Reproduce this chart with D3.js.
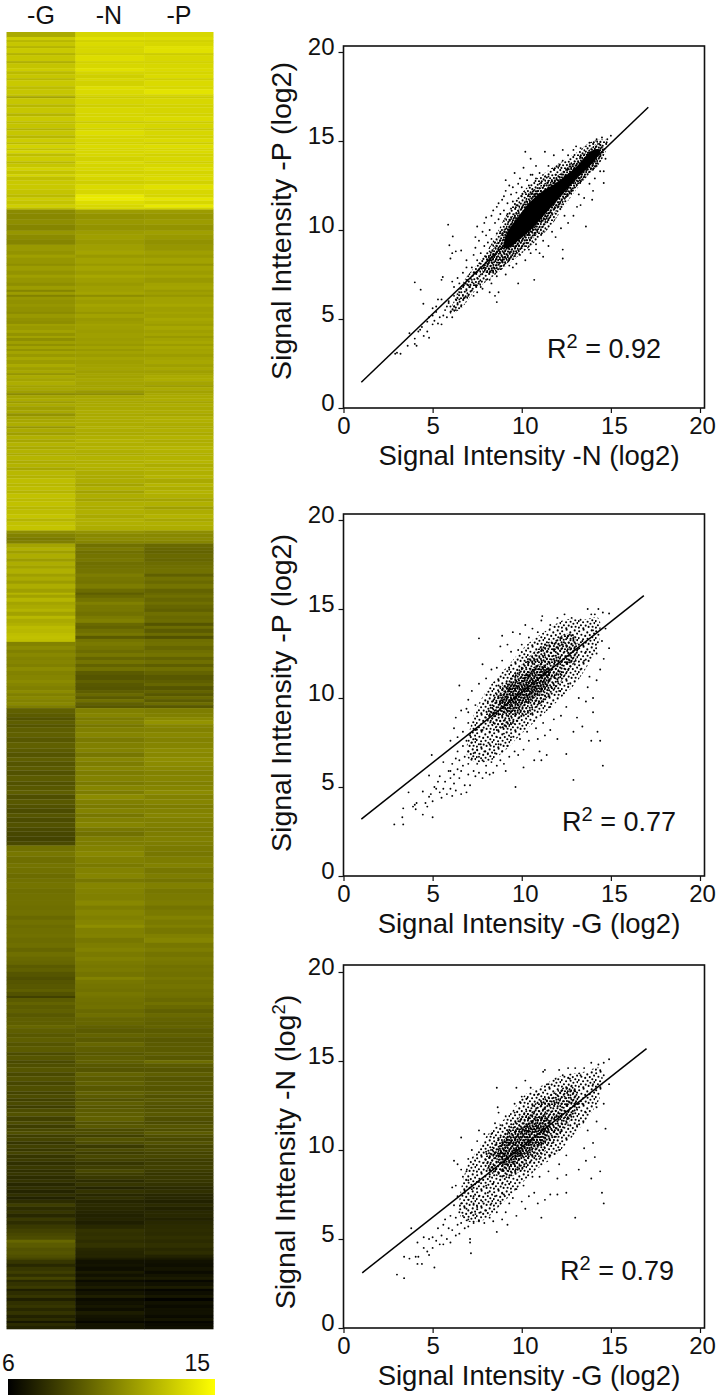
<!DOCTYPE html>
<html><head><meta charset="utf-8"><script src="https://d3js.org/d3.v7.min.js"></script>
<style>html,body{margin:0;padding:0;background:#fff}svg{display:block}text{font-family:"Liberation Sans",Arial,sans-serif;fill:#111}</style></head><body>
<svg id="c" width="717" height="1398"></svg>
<script>
// Heatmap: runs of [rows, -G, -N, -P], log2 values
const heatColumns=["-G","-N","-P"];
const legendLabels=["6","15"];
const heatTop=[[5,12,13.5,13.6],[3,13.2,13.9,13.8],[2,12.5,13.4,13.4],[4,13,13.7,13.6],[2,12.4,13.5,13.9],[5,13.1,13.6,13.9],[2,12.3,13.3,13.2],[6,13,13.8,13.6],[2,12.2,13.4,13.4],[5,12.9,13.6,13.6],[3,13.2,13.9,13.7],[3,12.6,13.5,13.5],[4,13,13.3,13.7],[2,12.5,13.6,13.3],[6,13.1,13.4,13.7],[3,12.7,13.8,13.6],[5,13,13.7,14],[2,12.8,13.5,13.5],[2,11.8,13.2,13.2],[6,13,13.5,13.6],[3,12.5,13.3,13.4],[6,13,13.6,13.5],[3,12.4,13.5,13.4],[5,13.1,13.6,13.7],[2,12.6,13.1,13.2],[5,12.9,13.6,13.5],[2,12.3,13.3,13.1],[5,13,13.8,13.6],[3,12.5,13.5,13.4],[4,13.2,13.6,13.7],[2,12.6,13.4,13.2],[4,13.4,13.7,13.8],[2,12.8,13.5,13.5],[3,13.5,13.6,13.7],[3,12.7,13.6,13.4],[5,13.2,13.4,13.6],[2,12.5,13.7,13.3],[4,13,13.5,13.6],[3,13.4,13.6,13.8],[4,12.9,13.4,13.5],[2,13.5,13.8,13.6],[4,12.8,13.5,13.7],[4,13.1,13.3,13.4],[5,13.1,13.7,13.9],[5,12.9,13.6,13.6],[3,12.6,14.2,13.5],[3,13.2,14.3,14.1],[4,12.9,13.8,13.6],[3,13.3,13.6,14.2],[2,12.6,13.6,13.4]];
const heatRising=[[4,10.9,11.5,11.5],[6,10.8,11.2,11.3],[5,11,11.4,11.5],[6,10.7,11.2,11.2],[4,11.3,11.5,11.6],[5,10.9,11.6,11.4],[5,10.7,11.4,11.1],[6,11.4,11.6,11.3],[4,11.2,11.8,11.6],[3,11.6,11.4,11.4],[6,11.3,11.7,11.7],[2,11,11.4,11.2],[5,11.5,11.8,11.7],[4,11.2,11.5,11.5],[3,11.6,11.9,11.8],[5,11.3,11.6,11.4],[3,11,11.4,11.7],[4,11.5,11.6,11.8],[2,10.7,11.6,11.4],[3,11.5,11.8,11.6],[2,10.6,11,11.3],[3,11.3,11.7,11.7],[4,11.1,11.5,11.7],[3,11.3,11.8,11.9],[5,11.1,11.6,11.6],[2,10.9,11.3,11.8],[4,11.4,11.7,11.6],[3,11.1,11.4,11.9],[3,11,11.5,11.7],[2,11.6,11.7,11.5],[4,11.4,11.6,11.9],[3,11.7,11.5,11.6],[3,11.2,11.6,11.8],[2,11.7,11.6,11.4],[3,11,11.5,11.7],[3,11.6,11.6,11.9],[2,11.1,11.4,11.5],[3,11.7,11.7,11.9],[2,11.2,11.4,11.7],[3,11.8,11.7,11.8],[3,11.4,11.5,11.5],[3,11.9,11.8,11.8],[4,11.5,11.6,11.9],[3,12,11.7,11.6],[3,11.6,11.8,11.9],[3,11.9,11.6,11.6],[2,11.3,11.8,11.8],[3,12,11.7,12],[3,11.8,11.9,12.1],[4,12.1,11.8,11.8],[2,11.7,11.7,11.5],[3,11.9,11.9,12],[3,11.6,11.4,11.7],[2,10.9,11,11.9],[3,11.8,11.9,12],[3,12,12,12.1],[2,11.5,11.9,11.8],[3,12,12,12.1],[4,11.6,12,12],[3,11.9,12.1,12.1],[3,11.2,12,11.9],[3,11.8,12.1,12.2],[3,11.9,12.1,12.2],[4,12.1,12.1,12.1],[2,11.3,12.2,12],[4,12,12.1,12.2],[3,11.6,12,12],[4,12.2,12.2,12.3],[3,11.9,12.3,12.1],[4,12.3,12.2,12.2],[3,12,12.3,12.4],[4,12.3,12.2,12.3],[2,12,12,12.1],[5,12.4,12.3,12.3],[3,12.1,12.2,12.4],[4,12.3,12.3,12.1],[3,11.9,12.2,12.3],[5,12.5,12.1,12.2],[3,12.3,12,12.4],[5,12.7,12.1,12],[3,12.5,11.8,12.4],[4,12.7,12.2,12.1],[3,12.4,11.7,12.3],[5,12.8,12.1,12.2],[3,12.6,11.8,11.8],[5,12.8,12.2,12.2],[3,12.5,12,11.6],[5,12.7,12.2,12.1],[4,12.9,12,12.3],[3,12.4,12.2,11.9],[4,12.8,12.2,12.2],[5,12.9,12.1,12.1]];
const heatGHigh=[[3,11,11.2,11],[4,10.6,10.8,10.8],[3,10.3,10.9,10.9],[3,10.5,10.7,10.7],[4,11.8,10,9.7],[3,12.2,10.3,9.6],[3,11.6,9.9,9.5],[5,12.1,10.1,9.7],[3,11.5,10.2,9.6],[4,12.1,9.9,9.8],[3,11.7,10,9.9],[5,12.2,10.1,10],[3,11.6,10.4,9.4],[4,12,10.2,10],[3,11.5,10.1,9.7],[5,12.1,10.4,10.1],[4,11.6,9.8,9.5],[2,12.4,9.3,9.7],[3,11.7,9.7,9.9],[4,12.4,10.1,9.6],[3,11.8,10.5,9.9],[4,12,10.2,9.6],[3,12.3,10.2,9.4],[4,11.7,10,9.9],[3,12.5,10.3,9.7],[4,12,10.5,9.8],[3,12.2,9.7,9],[3,12.6,9.5,9.8],[4,12.5,9.9,9.2],[3,12.7,10.2,9.8],[3,12.8,9.2,8.9],[3,12.7,10.1,9.9]];
const heatGMid=[[4,10.6,10.3,10],[4,10.9,10.1,9.6],[3,10.5,9.8,9.9],[4,10.8,10.2,10.1],[3,10.6,9.6,9.5],[4,10.7,10.1,9.9],[3,10.5,9.5,9.3],[4,10.9,10,9.9],[4,10.6,9.2,9.5],[5,10.7,9,9.1],[3,10.9,9.4,9.3],[3,10.7,9.1,9.6],[4,10.5,9,9],[3,10.9,9.3,9.5],[3,10.5,9.7,9.1],[3,10.8,9.2,9.7],[3,10.6,9.9,9.2],[3,10.8,9.4,9.8],[3,10.4,9.1,9.1]];
const heatGLow=[[5,9.4,10.5,10.4],[4,9.2,10.7,10.5],[3,8.9,10.3,10.8],[4,9.3,10.6,11.2],[3,9,10.2,10.7],[5,9.3,10.5,10.6],[5,9.4,10.7,10.8],[5,9.1,10.3,10.6],[6,9.4,10.5,10.7],[4,9.2,10.6,10.9],[5,9,10.2,10.8],[4,9.3,10.7,11],[5,9,10.4,10.9],[4,9.2,10.7,10.8],[5,8.9,10.4,10.6],[6,9.2,10.6,10.7],[4,8.9,10.3,10.5],[5,9.1,10.7,10.7],[4,9.3,10.4,10.9],[5,8.8,10.9,10.6],[5,9.1,10.5,10.7],[4,8.9,10.3,10.4],[5,8.7,10.6,10.6],[4,9,10.2,10.7],[5,8.7,10.5,10.5],[5,8.9,10.7,10.5],[4,8.6,10.2,10.3],[5,8.5,10,10.4],[5,8.4,10.4,10.5],[4,8.6,10.4,10.4]];
const heatFalling=[[6,10,10.6,10.3],[5,10.2,10.8,10.2],[7,9.9,10.5,10.4],[4,10.1,10.3,10.6],[6,10,10.6,10.2],[5,9.8,10.7,10.4],[4,10,10.2,10.1],[6,10.1,10.7,10.5],[5,9.9,10.6,10.2],[7,10,10.5,10.3],[5,10,10.8,10.4],[4,9.9,10.4,10.1],[6,10,10.7,10.3],[4,9.7,10.5,10.6],[5,10,10.7,10.3],[3,9.8,11,10.5],[6,9.9,10.5,10.2],[4,10,10.6,10.5],[5,9.8,10.2,10.7],[5,9.9,10.4,10.2],[4,9.6,10.6,10.4],[5,9.9,10.3,10.1],[4,9.7,10.5,10.3],[4,9.6,10.3,10.2],[3,9.2,10.2,10],[4,9.4,10.3,10.1],[5,9,10.1,10],[3,8.8,10.6,10.2],[4,9,10.2,10],[5,9.1,10.1,10.1],[3,9.3,10,9.9],[4,8.9,10.2,10],[2,8.3,10.1,9.9],[4,9.2,10,9.7],[3,9.5,9.9,10],[4,9.2,10,9.7],[4,9.4,9.7,9.4],[4,9.1,9.9,9.7],[4,9.3,9.6,9.5],[4,9.3,9.6,9.4],[3,9.6,9.4,9.5],[5,9.3,9.2,9.2],[4,9.1,9.5,9.4],[5,9.3,9.2,9.1],[4,9,9.6,9.2],[6,9.2,9.3,9.2],[3,8.7,9.1,9.3],[5,9,9.3,9.1],[3,8.6,9.4,9.8],[4,8.8,9.1,9.2],[5,9,9,9],[4,8.6,9.5,9.3],[5,8.9,9.2,9],[4,8.5,9.4,9.1],[6,8.8,9.1,9],[3,8.4,9.4,9.2],[4,8.7,9.2,8.9],[3,8.3,8.9,9.1],[4,8.6,9.3,9],[3,8.2,9,8.8],[4,8.7,9.2,9],[4,8.9,9.3,9.1],[5,8.3,9.4,8.8],[3,8.7,8.9,8.7],[4,8.2,9.1,9],[3,8.5,8.6,8.8],[3,8.8,8.8,9.2],[3,8.2,8.3,8.8],[4,8.4,8.9,8.6],[3,7.9,8.7,8.9],[4,8.3,8.1,8.5],[3,8,8.6,8.7],[3,8.4,8.2,8.4],[4,7.9,8.5,8.5],[3,8.1,8.3,8.2],[4,7.7,7.9,8.2],[4,8,8.2,8.3],[3,7.7,8.5,8.1],[3,7.9,8.2,7.9],[4,7.6,8,8],[3,7.8,7.6,7.9],[4,7.4,7.9,7.8],[3,7.7,7.3,7.5],[4,7.3,7.8,7.7],[3,7.7,7.4,7.4],[3,7.2,7.7,7.4],[4,7.6,7.3,7.2],[3,8.2,7.5,7.5],[4,7.6,7.4,7.2],[3,7.9,7.3,7.4],[4,7.4,7.2,7.4],[3,8,7.3,7.2],[4,7.6,7.1,7.4],[4,8,7.4,7.5],[4,8.3,7.8,7.6],[3,8.5,7.7,7.5],[4,8.7,7.8,7.7],[3,9.6,7.6,7.5],[5,9.2,7.8,7.7],[3,8.9,7.4,7.4],[4,9,7.3,7.6],[3,8.8,7.3,7.2],[2,8.5,7,6.9]];
const heatBottom=[[4,7.9,6.6,6.6],[3,7.4,6.7,6.5],[4,7.9,6.5,6.7],[3,8.2,6.9,6.4],[3,7.7,6.6,6.7],[3,8.4,7,6.9],[2,7.4,6.4,6.3],[4,7.8,6.7,6.6],[3,8.1,7,7],[2,7.1,6.4,6.2],[4,7.6,6.7,6.5],[3,7.9,7.1,6.8],[3,7.1,6.4,6.1],[4,7.7,6.6,6.6],[3,7.9,6.8,6.4],[3,7.4,6.5,6.6],[4,7.8,7,6.6],[3,7.2,6.7,6.4],[3,7.6,6.6,6.7],[2,6.8,6.3,6.2],[3,7.5,6.7,6.4],[3,7.2,6.7,6.5]];

// Scatter panels: individually readable dots, plus the outline of zones where dots merge
const axisTicks=[0,5,10,15,20];
const fitNP=[[1,1.45],[17.1,16.9]], fitGP=[[1,3.2],[16.85,15.75]], fitGN=[[1.05,3.1],[17,15.7]];
const zonesNP=[
 [[6,5.3],[6.8,7.2],[7.6,8.2],[8.4,9.4],[9,10.6],[9.6,11.6],[10.3,12.4],[11,13],[12,13.7],[13,14.3],[14,15],[14.8,15],[14.4,13.8],[13.4,12.7],[12.5,11.5],[11.6,10.2],[10.6,9.2],[9.4,8.2],[8.4,7.4],[7.4,6.6],[6.6,5.6]],
 [[7.8,7.7],[8.6,9.3],[9.2,10.4],[9.9,11.3],[10.6,12.2],[11.4,12.7],[12.2,13.2],[13.2,14],[14.4,14.9],[14.6,14.2],[13.6,13],[12.7,12],[11.8,10.9],[10.9,9.8],[10,8.9],[9,8],[8.3,7.6]],
 [[9,9],[9.2,9.9],[9.7,10.6],[10.4,11.5],[11.2,12.2],[12,12.7],[13,13.5],[14,14.5],[14.4,14.5],[14.1,13.9],[13.2,13],[12.2,11.9],[11.4,11],[10.6,10.1],[9.8,9.4],[9.3,9]]];
const zonesGP=[
 [[7.2,8.7],[7.7,9.9],[8.4,10.9],[9.3,11.9],[10.3,13],[11.4,13.8],[12.4,14.4],[13.5,14.4],[14.3,14.5],[14.3,13],[13.8,12],[13,10.8],[12,9.8],[11,8.9],[10,8],[9,7],[8,6.4],[7,6.6]],
 [[8,8.8],[8.6,10.3],[9.5,11.3],[10.6,12.5],[11.6,13.2],[12.8,13.6],[13.2,12.6],[12.4,11.2],[11.4,10],[10.2,9],[9,8.3]],
 [[8.7,9.6],[9.2,10.7],[10,11.2],[11,11.9],[11.6,11.6],[11.4,10.6],[10.4,9.8],[9.4,9.2]]];
const zonesGN=[
 [[6.9,9],[7.5,10],[8.2,11],[9.3,12],[10.3,13.2],[11.3,13.7],[12.3,14.2],[13.5,14.4],[14.4,14.6],[14.4,13],[13.7,11.8],[12.8,10.7],[11.8,9.6],[10.7,8.8],[9.7,7.8],[8.8,6.9],[7.7,6],[6.6,6.2]],
 [[7.9,9.2],[8.5,10.4],[9.4,11.4],[10.6,12.5],[11.6,13.1],[12.8,13.6],[13.2,12.6],[12.4,11.2],[11.4,10],[10.2,9],[9,8.4]],
 [[8.6,9.4],[9,10.6],[9.9,11.2],[11,11.9],[11.6,11.6],[11.3,10.6],[10.3,9.8],[9.3,9.1]]];
const dotsNP=[[3,3.1],[2.9,3.05],[3.2,3.05],[3.6,3.5],[3.7,4.2],[4,3.9],[4,3.6],[4.1,3.5],[4.2,4.3],[4.3,4.4],[4.4,4.55],[4.5,4.05],[4.8,3.95],[4.7,4.3],[4.7,4.85],[4.8,5.1],[5,4.7],[5,5.2],[5.1,4.9],[5.2,5.4],[5.3,4.75],[5.4,5.1],[5.5,4.7],[5.6,5.2],[5.7,5.5],[5.8,5.1],[5.8,5.7],[5.9,6],[6,5.4],[6,5.7],[5.5,6.1],[5.3,6.1],[5.2,5.7],[5,5.6],[5.9,5.9],[6.1,5.1],[6.2,6.3],[6.2,5.7],[6.3,6.1],[6.3,5.5],[6.4,6.4],[6.4,5.9],[6.5,6.5],[6.5,6.1],[6.6,5.7],[6.6,6.7],[6.7,6.3],[6.8,6.2],[6.8,7],[6.9,6.6],[7,6.9],[7,6.3],[7,7.4],[7.1,6.8],[7.2,7.2],[7.2,6.6],[7.2,7.9],[7.3,7],[7.3,6.3],[7.4,7.6],[7.4,6.9],[7.5,7.3],[7.5,8.3],[7.5,6.5],[7.6,7.8],[7.6,7.1],[7.7,8.1],[7.7,7.5],[7.7,6.8],[4,7.06],[4.33,6.65],[4.48,5.86],[5.57,7.36],[5.5,7.2],[6.1,7.1],[6.4,7.3],[6.7,7.6],[5.87,10.3],[5.94,9.14],[6.13,9.64],[6.1,8.7],[6,8.4],[6.3,8.8],[6.6,8.85],[6.9,8.3],[6.9,7.9],[7.3,8.6],[7.4,9],[7.4,9.6],[7.5,10.2],[7.6,9.4],[7.7,8.7],[7.8,9.9],[7.9,9.1],[7.9,10.4],[8,8.5],[8,9.7],[8,10.7],[8.1,9.3],[8.1,8.1],[8.2,10],[8.3,9.5],[8.3,10.8],[8.4,11.1],[8.4,8.6],[8.5,10.4],[8.6,9.8],[8.6,11.3],[8.7,10.6],[8.7,11.5],[8.8,9.9],[8.8,10.9],[8.9,11.7],[9,10.5],[9,11.1],[9,11.9],[9.1,12.2],[9.2,10.9],[9.2,11.5],[9.3,12.5],[9.1,12.8],[9.4,11.2],[9.4,12],[9.5,11.6],[9.5,12.4],[9.6,13.2],[9.7,11.4],[9.7,12.1],[9.8,12.6],[9.9,12.9],[10,11.9],[10,12.4],[10.1,13.5],[10.2,12.1],[10.2,14.4],[10.3,12.8],[10.4,12.5],[10.5,14],[10.5,13.1],[10.6,13.1],[10.6,12.3],[10.8,13.6],[10.8,12.9],[11,13.2],[11,12.6],[11.3,14.4],[11.3,13],[11.5,13.6],[11.5,13],[11.8,13.4],[11.8,14.2],[11.9,13.1],[12.1,13.6],[12.3,14.5],[12.3,13.9],[12.5,13.4],[12.6,14.2],[12.7,13.7],[12.9,14.5],[13.05,14.7],[13.3,14.6],[13.3,14.1],[13.8,14.9],[13.6,14.7],[14.2,15.1],[14.5,15.2],[15,15.3],[14.8,15.1],[8,8.5],[8.2,7.2],[8.6,5.95],[8.5,6.3],[8.7,6.5],[8.2,6.5],[8.3,7],[8.6,7.4],[8.8,7.8],[9.1,7.5],[9.3,8],[9.8,7],[10.7,7.2],[9.5,7.9],[9.7,8.1],[10.2,8.3],[10.5,8.7],[10.8,8.9],[11,8.7],[11.2,8.5],[11.5,9.1],[12.3,8.4],[12.3,8.9],[11.9,9.6],[12.2,10.1],[12.6,10.4],[12.9,10.8],[13.6,10.2],[13.3,11.4],[13.95,11.7],[13.5,11.8],[13.8,12.6],[14.1,12.9],[14.6,12.64],[14.6,13.3],[14.2,13.6],[14.4,13.3],[14.7,14],[14,12.2],[13.2,12],[13.1,11.3],[12.4,10.8],[11.7,9.9],[11.2,9.4],[10.8,9.2],[10.4,8.9],[9.9,8.6],[9.3,8.4],[8.9,8.2],[8.4,7.6],[8,7.2],[7.8,6.7],[7.9,7.9],[8.2,8.8],[8.5,9.3],[8.3,8.3],[8.7,9],[7.3,7.6],[6.9,7.2],[6.5,7],[6.2,6.8],[9.5,10],[10.9,12],[12.6,13],[11.6,11],[10.2,9.8]];
const dotsGP=[[2.85,2.9],[3.35,2.9],[3.3,3.3],[3.35,3.8],[3.65,4.7],[4,4],[4.05,3.75],[3.9,3.9],[4.1,4.1],[4.45,3.45],[4.45,4.75],[4.7,3.9],[4.6,4.1],[5,3.3],[4.8,4.45],[4.9,4.6],[4.8,5.65],[4.95,6.8],[5,4.2],[5.1,5],[5.2,4.9],[5.3,5.3],[5.4,4.7],[5.4,5.6],[5.5,4.4],[5.6,4.9],[5.6,6.4],[5.7,5.3],[5.8,4.6],[5.9,5.9],[6,4.9],[6,5.5],[6,5.9],[6.1,4.5],[6.1,6.3],[6.2,5.2],[6.2,5.7],[6.3,6.6],[6.3,4.8],[6.4,6],[6.4,7],[6.5,5.5],[6.5,6.5],[6.6,4.6],[6.6,5.9],[6.7,7.3],[6.7,6.2],[6.8,5.1],[6.8,6.7],[6.9,4.7],[6.9,7.6],[7,5.7],[7,6.3],[7,7],[7.1,8],[7.1,5.1],[7.2,6.6],[7.2,7.5],[7.3,5.9],[7.3,6.9],[7.4,5.6],[7.4,7.7],[7.5,6.3],[7.5,7.1],[7.6,5.8],[7.6,6.7],[7.7,7.4],[7.8,5.5],[7.8,6.5],[7.9,7],[8,5.8],[8,6.2],[8.1,6.9],[8.2,5.7],[8.2,7.4],[8.3,6.4],[8.4,5.8],[8.5,6.9],[8.6,6.2],[8.7,7.4],[8.8,6.5],[8.9,7],[9,6.3],[9.1,5.9],[9.2,7.3],[9.3,6.7],[9.6,7],[9.8,6.8],[9.65,5],[10.1,6.1],[10.1,7.1],[10.4,7.6],[10.7,6.5],[11,7],[11.1,6.5],[11.4,6.8],[10.9,7.7],[11.3,7.9],[11.6,8.2],[12,7.7],[12.5,6.85],[12.9,5.4],[14.55,6.2],[13.9,7.6],[14.4,7.6],[14.25,8.1],[12.9,8.1],[13.4,8.4],[13.1,8.9],[14,9.2],[13.6,9.8],[14,10],[13.2,10],[13.7,10.6],[14.2,11],[14.4,11.6],[14.6,12.2],[14.9,12.8],[14.5,13.2],[14.7,13.9],[14.9,14.75],[14.55,14.8],[14.3,15],[14.1,14.7],[13.7,15],[13.9,14.7],[6.5,10.7],[7.6,13.35],[7.8,11.9],[9.5,13.7],[8.9,13.5],[8.8,12.9],[10.2,14.1],[11.1,14.35],[11.15,14.6],[9.9,13.6],[10.4,13.4],[10.9,13.7],[11.6,14.1],[12,14.5],[12.4,14.7],[12.8,14.5],[13.3,14.4],[9.2,13],[9.4,12.6],[8.9,12.1],[8.6,11.7],[8.3,11.6],[8,11.1],[7.6,10.8],[7.2,10.4],[7,9.9],[6.9,9.4],[6.6,9.3],[6.3,8.9],[6.2,8.3],[6,7.6],[7,9.2],[7.4,9.6],[9.8,12.7],[10,13],[10.6,13.9],[7,8.6],[6.7,8.1],[6.4,7.8],[8.1,9.8],[8.4,9.1],[8.7,10.7],[9,9.2],[9.3,11.6],[9.7,10],[10,11.7],[10.4,10.4],[10.7,12.1],[11,9.7],[11.4,12.6],[11.6,9.5],[11.9,11.1],[12.1,10.4],[12.3,13],[12.7,12],[12.9,13.3],[13.4,13.2],[13.6,12.6],[14,13.8],[14.2,12.5],[13.8,11.2],[13.3,11.6],[12.5,9.5],[12.2,9],[11.8,8.8],[11.2,8.6],[10.8,8.3],[10.3,8.1],[9.9,7.7],[9.4,7.8],[9,8],[8.6,8.2],[8.2,8.1],[7.8,8.2],[7.4,8.2],[7.1,7.9],[8.6,7.8],[9.5,8.6],[10.5,9.1],[11.5,10.1],[12.6,10.8],[13.5,12.1]];
const dotsGN=[[3,3],[3.4,2.8],[3.4,4],[3.7,3.9],[3.8,5.6],[4.05,4],[4.15,3.6],[4.2,4],[4.15,4.8],[4.4,3.6],[4.5,5.1],[4.5,4.5],[4.7,4.3],[4.8,4.1],[4.8,5],[5,4.5],[5,5.1],[5.1,3.4],[5.2,4.9],[5.3,5.6],[5.4,4.7],[5.5,5.2],[5.6,5.8],[5.6,4.7],[5.7,6.1],[5.8,5],[5.9,5.6],[6,4.8],[6,6.3],[6.1,5.5],[6.2,6.9],[6.3,5.2],[6.3,6.2],[6.4,5.8],[6.4,7.4],[6.5,5.3],[6.5,6.5],[6.6,5.9],[6.6,7],[6.7,6.3],[6.8,5.6],[6.8,7.6],[6.9,6.7],[7,5.7],[7,6.1],[7,7.2],[7.1,4.8],[7.1,5],[7.15,4.2],[7.2,6.5],[7.2,7.8],[7.3,5.9],[7.3,7],[7.4,6.4],[7.5,6.8],[7.6,6],[7.6,7.4],[7.7,6.5],[7.8,7.1],[7.9,5.9],[8,6.6],[8.1,7.6],[8.2,6.2],[8.3,7],[8.4,6],[8.5,7.4],[8.6,5.4],[8.6,6.5],[8.8,7.1],[8.9,6.1],[9,7.5],[9.1,6.5],[9.2,5.8],[9.3,7],[9.5,7.3],[9.7,6.3],[10,7.1],[10.2,6.7],[10.4,7.4],[10.7,7.6],[10.9,7],[11.1,6.2],[11.3,7.2],[11.6,7.5],[12,7.5],[12.5,7.6],[13,6.2],[14.5,7.6],[14.6,7],[13.9,8.4],[14.4,8.8],[13.2,8.9],[12.5,8.6],[12,8.4],[13.6,9.4],[14.1,9.6],[13.5,10.1],[14,10.4],[14.7,11.2],[14.6,12.6],[14.2,11.6],[14.9,13.7],[14.6,14.2],[14.9,15.1],[14.6,14.9],[14.3,14.8],[13.9,14.9],[13.5,14.6],[13,14.6],[12.6,14.6],[12.1,14.5],[11.3,14.5],[11.2,14.4],[10.2,13.9],[9.7,13.5],[8.6,13.5],[8.65,12.4],[8.7,12.1],[9.6,12.6],[9.6,12.1],[9.1,11.9],[6.6,10.7],[7.6,11.1],[7.9,10.9],[6.2,9.4],[6.4,9.2],[6.6,8.9],[6.1,7.9],[6.3,8],[6.9,8.8],[7,9.5],[7.2,10],[7.5,10.5],[7,8.3],[6.7,8.5],[8.3,10.9],[8.5,11.5],[8.8,11.4],[10,13],[10.5,13.5],[10.9,13.1],[11.5,13.7],[11.9,14],[12.3,14.2],[12.7,14],[13.3,14.2],[9.9,12.7],[10.3,12.9],[8,9.9],[8.2,8.5],[8.5,9.8],[8.9,8.1],[9.2,10.9],[9.6,9.2],[9.9,11.6],[10.3,9.9],[10.6,11.9],[11,9.5],[11.3,12.3],[11.6,9.7],[11.8,11],[12.1,10],[12.4,13],[12.6,11.4],[13,13.3],[13.4,12.6],[13.6,12.1],[14,13.7],[14.2,12.4],[13.7,11.1],[13.1,11.4],[12.5,9.7],[12.1,9.2],[11.5,8.8],[11,8.5],[10.6,8.5],[10.1,8],[9.7,7.8],[9.3,8.1],[8.9,7.6],[8.4,8.1],[8,8],[7.6,8.2],[7.3,7.4]];

// Stipple tiles (texture only) used to fill the merged-dot zones
const stippleSparse=[[1.2,2.3],[5.6,.8],[9.3,3.4],[13.7,1.4],[16.1,4.6],[3.4,5.7],[7.2,6.9],[11.8,6.1],[14.3,8.2],[.7,9.1],[5.1,10.3],[9.6,9.8],[12.4,11.7],[16.4,11.1],[2.9,13.2],[7.7,13.6],[10.6,14.9],[14.6,14.7],[.9,15.6],[5.3,16.2]];
const stippleMid=[[1.3,1.1],[4.7,2.8],[8.2,.9],[11.4,3.2],[2.6,5.4],[6.3,6.2],[9.8,5.7],[12.5,7.4],[.8,8.6],[4.1,9.3],[7.9,9.1],[10.6,10.4],[2.4,11.9],[6,12.2],[8.8,12.4],[12.3,11.6]];
const stippleDense=[[.9,1.3],[3.7,.8],[6.4,2.1],[9.4,1],[1.8,4.1],[4.8,4.6],[7.8,4.3],[10.2,3.9],[.6,6.7],[3.2,7.1],[6.1,7.2],[8.9,6.6],[2,9.6],[4.9,9.9],[7.7,9.4],[10.1,9.2]];

const cellColor=d3.scaleLinear().domain([6,15]).range(["#000","#ff0"]);
const svg=d3.select("#c");
const defs=svg.append("defs");
[["tileSparse",17,stippleSparse],["tileMid",13,stippleMid],["tileDense",11,stippleDense]].forEach(([id,s,pts])=>{
  defs.append("pattern").attr("id",id).attr("patternUnits","userSpaceOnUse").attr("width",s).attr("height",s)
    .selectAll("circle").data(pts).join("circle").attr("cx",d=>d[0]).attr("cy",d=>d[1]).attr("r",1.05).attr("fill","#000");
});

// ---- heatmap
const heatRuns=[...heatTop,...heatRising,...heatGHigh,...heatGMid,...heatGLow,...heatFalling,...heatBottom];
const totalRows=d3.sum(heatRuns,d=>d[0]);
const heatY=d3.scaleLinear().domain([0,totalRows]).range([32,1329]);
const heatX=d3.scaleBand().domain(heatColumns).range([6.5,213]);
let start=0;
const runs=heatRuns.map(d=>{const r={start,len:d[0],vals:d.slice(1)};start+=d[0];return r;});
const heat=svg.append("g");
heatColumns.forEach((c,i)=>{
  heat.append("g").selectAll("rect").data(runs).join("rect")
    .attr("x",heatX(c)).attr("width",heatX.bandwidth()+.5)
    .attr("y",d=>heatY(d.start)).attr("height",d=>heatY(d.start+d.len)-heatY(d.start)+.3)
    .attr("fill",d=>cellColor(d.vals[i]));
  svg.append("text").attr("x",[41,109,179][i]).attr("y",24).attr("text-anchor","middle").attr("font-size",25).text(c);
});

// ---- colour legend
const legendX=d3.scaleLinear().domain([6,15]).range([8,215]);
const grad=defs.append("linearGradient").attr("id","legendGrad");
grad.selectAll("stop").data([6,15]).join("stop")
  .attr("offset",d=>(d-6)/9).attr("stop-color",d=>cellColor(d));
svg.append("rect").attr("x",legendX(6)).attr("y",1379).attr("width",legendX(15)-legendX(6)).attr("height",16).attr("fill","url(#legendGrad)");
svg.append("text").attr("x",2).attr("y",1371).attr("font-size",23).text(legendLabels[0]);
svg.append("text").attr("x",210).attr("y",1371).attr("text-anchor","end").attr("font-size",23).text(legendLabels[1]);

// ---- scatter panels
function panel(o){
  const x=d3.scaleLinear().domain([0,20]).range([343.5,700]);
  const y=d3.scaleLinear().domain([0,20]).range([o.y0,o.y20]);
  const g=svg.append("g");
  const line=d3.line().x(d=>x(d[0])).y(d=>y(d[1]));
  g.selectAll("path.zone").data(o.zones).join("path").attr("class","zone")
    .attr("d",d=>d3.line().x(p=>x(p[0])).y(p=>y(p[1])).curve(d3.curveCatmullRomClosed)(d))
    .attr("fill",(d,i)=>o.fills[i]);
  g.selectAll("circle").data(o.dots).join("circle")
    .attr("cx",d=>x(d[0])).attr("cy",d=>y(d[1])).attr("r",.95).attr("fill","#000");
  g.append("path").attr("d",line(o.fit)).attr("stroke","#000").attr("stroke-width",1.5).attr("fill","none");
  g.append("rect").attr("x",343.5).attr("y",o.top).attr("width",361).attr("height",o.y0-o.top)
    .attr("fill","none").attr("stroke","#111").attr("stroke-width",1.6);
  const ax=d3.axisBottom(x).tickValues(axisTicks).tickSize(5).tickSizeOuter(0);
  const ay=d3.axisLeft(y).tickValues(axisTicks).tickSize(5).tickSizeOuter(0);
  const gx=g.append("g").attr("transform",`translate(0,${o.y0})`).call(ax);
  const gy=g.append("g").attr("transform","translate(343.5,0)").call(ay);
  [gx,gy].forEach(a=>{a.select(".domain").remove();a.selectAll("line").attr("stroke","#111").attr("stroke-width",1.2);
    a.selectAll("text").attr("font-size",24).attr("font-family","Liberation Sans").attr("fill","#111");});
  gx.selectAll("text").attr("y",9).attr("dy","0.71em").attr("dx",d=>d>=10&&d<20?3:(d==20?2:0));
  gy.selectAll("text").attr("x",-9).attr("dy","0.12em");
  g.append("text").attr("x",529).attr("y",o.y0+57).attr("text-anchor","middle").attr("font-size",27.5).text(o.xl);
  const yl=g.append("text").attr("transform",`translate(${o.ylx},${o.ylc}) rotate(-90)`).attr("text-anchor","middle").attr("font-size",28.5);
  o.yl.forEach(p=>{const t=yl.append("tspan").text(p[0]);if(p[1])t.attr("font-size",18.5).attr("dy",-10);else if(p[2])t.attr("dy",10);});
  const r=g.append("text").attr("x",o.rx).attr("y",o.ry).attr("font-size",27);
  r.append("tspan").text("R");
  r.append("tspan").attr("font-size",20).attr("dy",-10).text("2");
  r.append("tspan").attr("dy",10).text(" = "+o.r2);
}
const fillsScatter=["url(#tileSparse)","url(#tileMid)","url(#tileDense)"];
panel({top:46,y0:408,y20:52,zones:zonesNP,fills:["url(#tileMid)","url(#tileDense)","#000"],dots:dotsNP,fit:fitNP,xl:"Signal Intensity -N (log2)",yl:[["Signal Inttensity -P (log2)"]],ylx:291,ylc:221,rx:547,ry:358,r2:"0.92"});
panel({top:514,y0:876,y20:520,zones:zonesGP,fills:fillsScatter,dots:dotsGP,fit:fitGP,xl:"Signal Intensity -G (log2)",yl:[["Signal Inttensity -P (log2)"]],ylx:291,ylc:693,rx:562,ry:831,r2:"0.77"});
panel({top:965,y0:1328,y20:972,zones:zonesGN,fills:fillsScatter,dots:dotsGN,fit:fitGN,xl:"Signal Intensity -G (log2)",yl:[["Signal Inttensity -N (log"],["2",1],[")",0,1]],ylx:295,ylc:1152,rx:560,ry:1280,r2:"0.79"});
</script></body></html>
